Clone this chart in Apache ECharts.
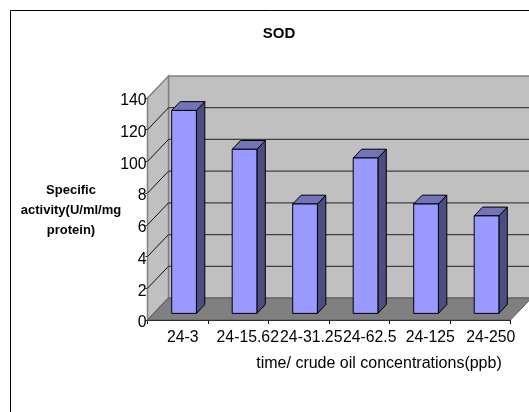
<!DOCTYPE html>
<html><head><meta charset="utf-8">
<style>html,body{margin:0;padding:0;background:#fff;overflow:hidden}#c{width:529px;height:412px}</style>
<script src="https://cdn.jsdelivr.net/npm/echarts@6/dist/echarts.min.js"></script>
</head><body><div id="c"></div>
<script>
const categories = ['24-3','24-15.62','24-31.25','24-62.5','24-125','24-250'];
const values = [128, 103.5, 69, 98, 69, 61.5];
const tickValues = [0,20,40,60,80,100,120,140];
const tickLabels = ['0','2','4','6','8','100','120','140'];
const chartTitle = 'SOD';
const yTitle = 'Specific\nactivity(U/ml/mg\nprotein)';
const xTitle = 'time/ crude oil concentrations(ppb)';

const FONT = '"Liberation Sans", Arial, sans-serif';
const DX = 21, DY = 22;          // depth of the 3D box
const BAR_W = 24.7, F0 = 0.3, F1 = 0.7, BAR_SHIFT = 0;
const LABEL_SIZE = 15.8;

const chart = echarts.init(document.getElementById('c'), null, {renderer:'canvas'});

function wallsRender(params, api){
  const cs = params.coordSys;
  const l = cs.x, r = cs.x + cs.width, t = cs.y, b = cs.y + cs.height;
  const poly = (pts, fill, stroke, w) => ({type:'polygon', shape:{points:pts},
     style:{fill:fill, stroke:stroke, lineWidth:w===undefined?1:w}});
  return {type:'group', children:[
    poly([[l+DX,t-DY],[r+DX,t-DY],[r+DX,b-DY],[l+DX,b-DY]], '#C0C0C0', '#808080', 1.5),
    poly([[l,t],[l+DX,t-DY],[l+DX,b-DY],[l,b]], '#C0C0C0', '#808080', 1.5),
    poly([[l,b],[l+DX,b-DY],[r+DX,b-DY],[r,b]], '#808080', '#5a5a5a', 1)
  ]};
}
function gridRender(params, api){
  const cs = params.coordSys;
  const y = api.coord([0, api.value(0)])[1];
  const l = cs.x, r = cs.x + cs.width;
  return {type:'group', children:[
    {type:'line', shape:{x1:l, y1:y, x2:l+DX, y2:y-DY}, style:{stroke:'#111', lineWidth:1}},
    {type:'line', shape:{x1:l+DX, y1:y-DY, x2:r+DX, y2:y-DY}, style:{stroke:'#404040', lineWidth:1.2}}
  ]};
}
function barRender(params, api){
  const i = api.value(0), v = api.value(1);
  const top = api.coord([i, v]), base = api.coord([i, 0]);
  const x0 = top[0] - BAR_W/2 + BAR_SHIFT + DX*F0, x1 = x0 + BAR_W;
  const yt = top[1] - DY*F0, yb = base[1] - DY*F0;
  const ddx = DX*(F1-F0), ddy = DY*(F1-F0);
  const s = {stroke:'#000', lineWidth:1, lineJoin:'round'};
  return {type:'group', children:[
    {type:'polygon', shape:{points:[[x1,yt],[x1+ddx,yt-ddy],[x1+ddx,yb-ddy],[x1,yb]]}, style:{fill:'#4D4D80',...s}},
    {type:'polygon', shape:{points:[[x0,yt],[x0+ddx,yt-ddy],[x1+ddx,yt-ddy],[x1,yt]]}, style:{fill:'#7373B8',...s}},
    {type:'rect', shape:{x:x0,y:yt,width:BAR_W,height:yb-yt}, style:{fill:'#9999FF',...s}}
  ]};
}
const richLabel = (pad) => ({fontFamily:FONT,fontSize:LABEL_SIZE,color:'#000',padding:pad});

chart.setOption({
  animation:false,
  backgroundColor:'#fff',
  graphic:[{type:'rect', z:-10, shape:{x:10.5,y:10.5,width:560,height:460},
    style:{fill:'#fff',stroke:'#000',lineWidth:1}}],
  title:[
    {text:chartTitle,left:274,top:21.5,textAlign:'center',textStyle:{fontFamily:FONT,fontSize:15,fontWeight:'bold',color:'#000'}},
    {text:yTitle,left:66,top:175,textAlign:'center',textStyle:{fontFamily:FONT,fontSize:13,fontWeight:'bold',color:'#000',lineHeight:20,align:'center'}},
    {text:xTitle,left:374,top:351,textAlign:'center',textStyle:{fontFamily:FONT,fontSize:16,fontWeight:'normal',color:'#000'}}
  ],
  grid:{left:147.5,right:18.5,top:98,bottom:92,containLabel:false},
  xAxis:{type:'category',data:categories,
    axisLine:{show:true,lineStyle:{color:'#000',width:1},onZero:false},
    axisTick:{show:true,length:4,alignWithLabel:false,lineStyle:{color:'#000'},interval:0},
    axisLabel:{interval:0,hideOverlap:false,margin:10,color:'#000',fontFamily:FONT,fontSize:LABEL_SIZE,
      padding:[0,0,0,21],
      formatter:(v,i)=> i===0 ? '{a|'+v+'}' : i===1 ? '{b|'+v+'}' : i===2 ? '{c|'+v+'}' : v,
      rich:{a:richLabel([0,11,0,0]),b:richLabel([0,2,0,0]),c:richLabel([0,0,0,4])}},
    splitLine:{show:false}},
  yAxis:{type:'value',min:0,max:140,interval:20,
    axisLine:{show:true,lineStyle:{color:'#000',width:1}},
    axisTick:{show:true,length:2,lineStyle:{color:'#000'}},
    axisLabel:{margin:1,color:'#000',fontFamily:FONT,fontSize:LABEL_SIZE,hideOverlap:false,
      formatter:(v)=>'{l|'+tickLabels[tickValues.indexOf(v)]+'}',
      rich:{l:richLabel([6,0,0,0])}},
    splitLine:{show:false}},
  series:[
    {type:'custom',z:1,clip:false,silent:true,data:[[0]],renderItem:wallsRender},
    {type:'custom',z:2,clip:false,silent:true,data:tickValues.slice(1,-1).map(v=>[v]),renderItem:gridRender},
    {type:'custom',z:3,clip:false,silent:true,data:values.map((v,i)=>[i,v]),encode:{x:0,y:1},renderItem:barRender}
  ]
});
</script></body></html>
